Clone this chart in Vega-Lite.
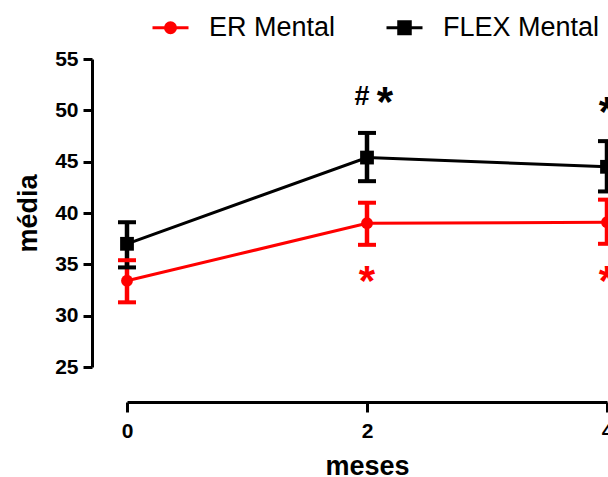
{
  "$schema": "https://vega.github.io/schema/vega-lite/v6.json",
  "width": 480,
  "height": 308,
  "autosize": {"type": "none"},
  "padding": {"left": 127, "top": 59, "right": 1, "bottom": 110},
  "background": "#ffffff",
  "config": {
    "view": {"stroke": null},
    "font": "Liberation Sans",
    "axis": {
      "grid": false,
      "domainColor": "#000000",
      "domainWidth": 3,
      "tickColor": "#000000",
      "tickWidth": 3,
      "tickSize": 9,
      "labelColor": "#000000",
      "labelFont": "Liberation Sans",
      "labelFontSize": 21,
      "labelFontWeight": "bold",
      "labelFlush": false,
      "labelOverlap": false,
      "titleColor": "#000000",
      "titleFont": "Liberation Sans",
      "titleFontSize": 27,
      "titleFontWeight": "bold"
    }
  },
  "datasets": {
    "medias": [
      {"mes": 0, "grupo": "ER Mental", "media": 33.4, "inf": 31.3, "sup": 35.4},
      {"mes": 2, "grupo": "ER Mental", "media": 39.0, "inf": 36.9, "sup": 41.0},
      {"mes": 4, "grupo": "ER Mental", "media": 39.1, "inf": 37.0, "sup": 41.3},
      {"mes": 0, "grupo": "FLEX Mental", "media": 37.0, "inf": 34.7, "sup": 39.1},
      {"mes": 2, "grupo": "FLEX Mental", "media": 45.4, "inf": 43.1, "sup": 47.8},
      {"mes": 4, "grupo": "FLEX Mental", "media": 44.5, "inf": 42.1, "sup": 47.0}
    ],
    "sinais": [
      {"mes": 2, "grupo": "FLEX Mental", "sinal": "#", "altura": 51.3},
      {"mes": 2, "grupo": "FLEX Mental", "sinal": "*", "altura": 50.7},
      {"mes": 4, "grupo": "FLEX Mental", "sinal": "*", "altura": 49.7},
      {"mes": 2, "grupo": "ER Mental", "sinal": "*", "altura": 33.3},
      {"mes": 4, "grupo": "ER Mental", "sinal": "*", "altura": 33.3}
    ]
  },
  "encoding": {
    "x": {
      "field": "mes",
      "type": "quantitative",
      "scale": {"domain": [0, 4], "nice": false},
      "axis": {
        "values": [0, 2, 4],
        "offset": 35,
        "tickSize": 10,
        "labelPadding": 8,
        "title": "meses",
        "titlePadding": 12
      }
    },
    "color": {
      "field": "grupo",
      "type": "nominal",
      "scale": {"domain": ["ER Mental", "FLEX Mental"], "range": ["#ff0000", "#000000"]},
      "legend": {
        "orient": "none",
        "legendX": 24,
        "legendY": -51,
        "direction": "horizontal",
        "title": null,
        "labelFont": "Liberation Sans",
        "labelFontSize": 27,
        "labelFontWeight": "normal",
        "labelColor": "#000000",
        "labelOffset": 19,
        "columnPadding": 44,
        "symbolSize": 1296,
        "symbolStrokeWidth": 3,
        "symbolOpacity": 1,
        "encode": {
          "symbols": {
            "update": {
              "shape": {"signal": "datum.value === 'ER Mental' ? 'M-1,0H1M-0.28,0A0.28,0.28,0,1,0,0.28,0A0.28,0.28,0,1,0,-0.28,0Z' : 'M-1,0H1M-0.32,-0.34H0.32V0.34H-0.32Z'"},
              "size": {"value": 1296},
              "fill": {"signal": "datum.value === 'ER Mental' ? '#ff0000' : '#000000'"},
              "stroke": {"signal": "datum.value === 'ER Mental' ? '#ff0000' : '#000000'"},
              "strokeWidth": {"value": 3},
              "opacity": {"value": 1}
            }
          }
        }
      }
    }
  },
  "layer": [
    {
      "data": {"name": "medias"},
      "mark": {"type": "line", "strokeWidth": 3},
      "encoding": {
        "y": {
          "field": "media",
          "type": "quantitative",
          "scale": {"domain": [25, 55], "nice": false, "zero": false},
          "axis": {
            "values": [25, 30, 35, 40, 45, 50, 55],
            "offset": 35,
            "labelPadding": 5,
            "title": "média",
            "titlePadding": 12
          }
        }
      }
    },
    {
      "data": {"name": "medias"},
      "mark": {"type": "rule", "strokeWidth": 4.5},
      "encoding": {
        "y": {"field": "inf", "type": "quantitative"},
        "y2": {"field": "sup"}
      }
    },
    {
      "data": {"name": "medias"},
      "mark": {"type": "tick", "orient": "horizontal", "size": 18, "thickness": 4, "opacity": 1},
      "encoding": {"y": {"field": "inf", "type": "quantitative"}}
    },
    {
      "data": {"name": "medias"},
      "mark": {"type": "tick", "orient": "horizontal", "size": 18, "thickness": 4, "opacity": 1},
      "encoding": {"y": {"field": "sup", "type": "quantitative"}}
    },
    {
      "data": {"name": "medias"},
      "transform": [{"filter": "datum.grupo === 'ER Mental'"}],
      "mark": {"type": "point", "shape": "circle", "size": 140, "filled": true, "opacity": 1},
      "encoding": {"y": {"field": "media", "type": "quantitative"}}
    },
    {
      "data": {"name": "medias"},
      "transform": [{"filter": "datum.grupo === 'FLEX Mental'"}],
      "mark": {"type": "point", "shape": "square", "size": 190, "filled": true, "opacity": 1},
      "encoding": {"y": {"field": "media", "type": "quantitative"}}
    },
    {
      "data": {"name": "sinais"},
      "transform": [{"filter": "datum.sinal === '#'"}],
      "mark": {"type": "text", "font": "Liberation Sans", "fontWeight": "bold", "fontSize": 27, "align": "center", "baseline": "middle", "dx": -5},
      "encoding": {
        "y": {"field": "altura", "type": "quantitative"},
        "text": {"field": "sinal"}
      }
    },
    {
      "data": {"name": "sinais"},
      "transform": [{"filter": "datum.sinal === '*' && datum.mes === 2 && datum.grupo === 'FLEX Mental'"}],
      "mark": {"type": "text", "font": "Liberation Sans", "fontWeight": "bold", "fontSize": 42, "align": "center", "baseline": "middle", "dx": 18},
      "encoding": {
        "y": {"field": "altura", "type": "quantitative"},
        "text": {"field": "sinal"}
      }
    },
    {
      "data": {"name": "sinais"},
      "transform": [{"filter": "datum.sinal === '*' && !(datum.mes === 2 && datum.grupo === 'FLEX Mental')"}],
      "mark": {"type": "text", "font": "Liberation Sans", "fontWeight": "bold", "fontSize": 42, "align": "center", "baseline": "middle", "dx": 0},
      "encoding": {
        "y": {"field": "altura", "type": "quantitative"},
        "text": {"field": "sinal"}
      }
    }
  ]
}
